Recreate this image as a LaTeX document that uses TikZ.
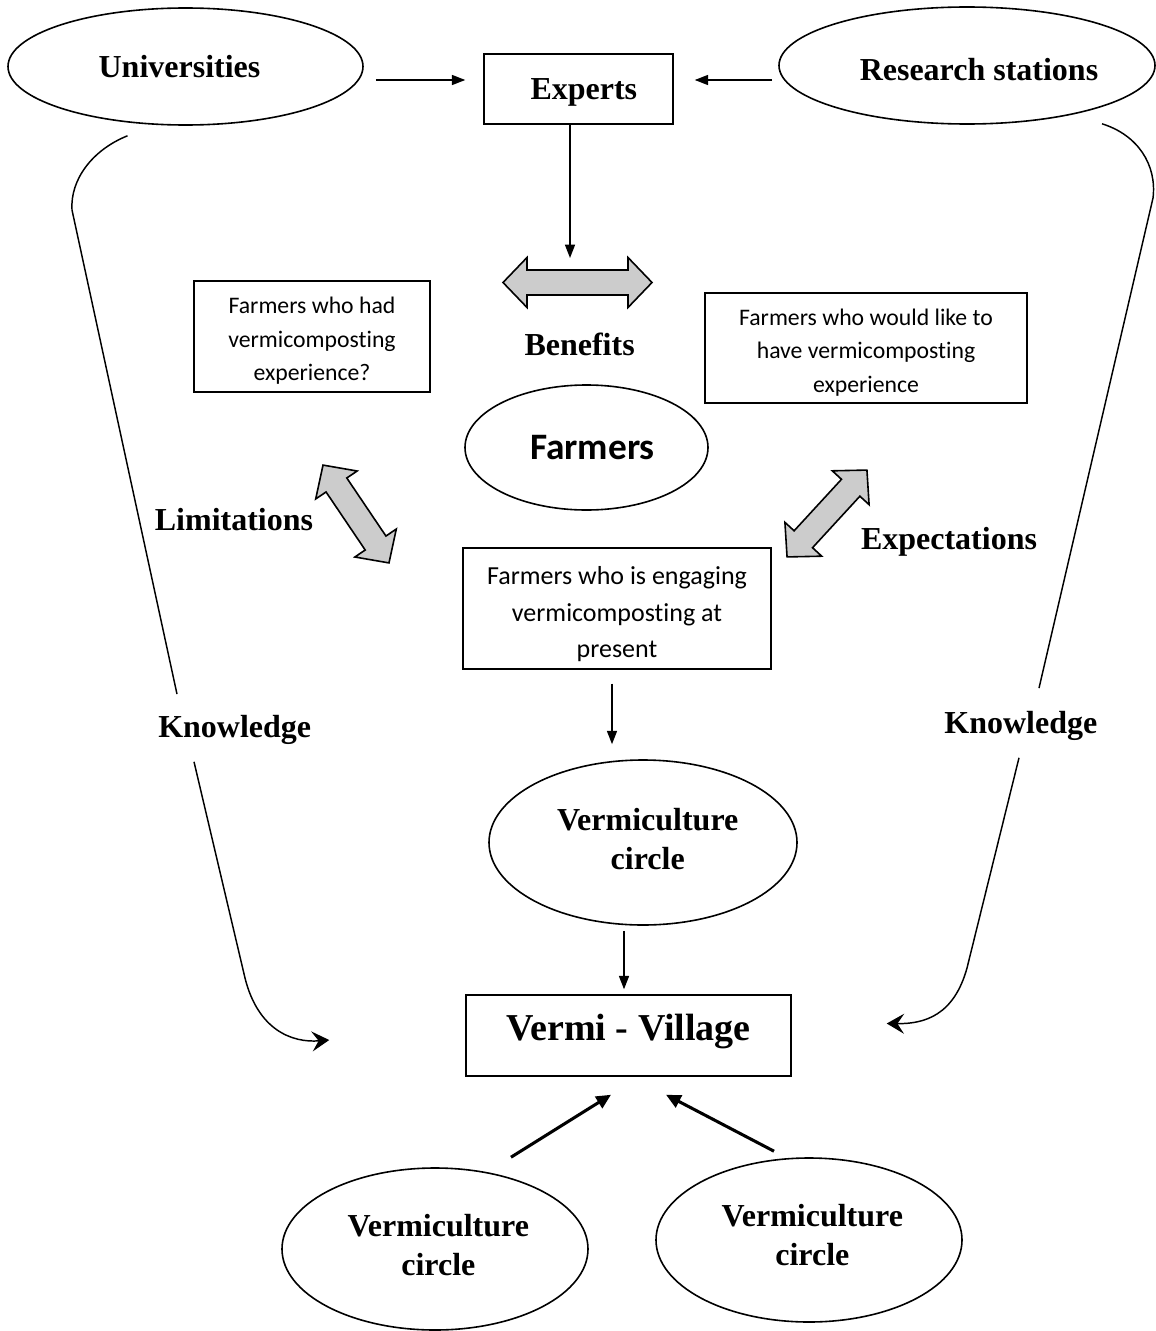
\documentclass[tikz,border=0pt]{standalone}
\usepackage{fontspec}
\setmainfont{Liberation Serif}
\newfontfamily\carl[Ligatures=NoCommon]{Carlito}
\usetikzlibrary{shapes.geometric,arrows.meta,calc}
\newcommand\dblarrow[4]{%
  \draw[blk, shift={(#1,#2)}, rotate=#3]
    (-#4,0) -- ++(24,25) -- ++(0,-12.5) -- (#4-24,12.5) -- ++(0,12.5) -- (#4,0)
    -- ++(-24,-25) -- ++(0,12.5) -- (-#4+24,-12.5) -- ++(0,-12.5) -- cycle;}
\newcommand\upstrut[1]{\rule{0pt}{#1}}
\newcommand\dnstrut[1]{\rule[-#1]{0pt}{#1}}
\begin{document}
\begin{tikzpicture}[x=0.75pt,y=-0.75pt,
  ttl/.style={font=\bfseries\fontsize{24}{29.25}\selectfont},
  ell/.style={draw, ellipse, line width=1.2pt, inner sep=0pt, align=center},
  bx/.style={draw, rectangle, line width=1.1pt, inner sep=0pt, align=center},
  smalltxt/.style={font=\carl\fontsize{17.8}{25}\selectfont},
  arr/.style={line width=1.1pt, -{Triangle[length=10pt,width=7.5pt]}},
  bigarr/.style={line width=2.3pt, -{Triangle[length=11pt,width=10pt]}},
  know/.style={line width=1.1pt, -{Stealth[length=13pt,width=15pt,inset=5pt]}},
  blk/.style={draw, line width=1.2pt, fill=gray!40, line join=miter}
]
\useasboundingbox (0,0) rectangle (1156,1331);

% top row
\node[ell, ttl, minimum width=266.25pt, minimum height=87.75pt] (uni) at (185.5,66.5) {Universities\hspace*{9pt}};
\node[ell, ttl, text height=21.75pt, text depth=0pt, minimum width=282pt, minimum height=87.75pt] (res) at (967,65.5) {\hspace*{18pt}Research stations};
\node[bx, ttl, text depth=0pt, minimum width=141.75pt, minimum height=52.5pt] (exp) at (578.5,89) {\hspace*{8pt}Experts};

% middle
\node[bx, smalltxt, minimum width=177pt, minimum height=83.25pt] (bl) at (312,336.5)
  {\upstrut{19pt}Farmers who had\\vermicomposting\\experience?};
\node[bx, smalltxt, minimum width=241.5pt, minimum height=82.5pt] (br) at (866,348)
  {\upstrut{19pt}Farmers who would like to\\have vermicomposting\\experience};
\node[ell, font=\carl\bfseries\fontsize{28}{32}\selectfont, minimum width=182.25pt, minimum height=93.75pt] (farm) at (586.5,447.5) {\hspace*{9pt}Farmers};
\node[bx, font=\carl\fontsize{19.5}{27.4}\selectfont, minimum width=231pt, minimum height=90.75pt] (bc) at (617,608.5)
  {\upstrut{22pt}Farmers who is engaging\\vermicomposting at\\present};

\node[ttl, anchor=base] (benef) at (579.6,355) {Benefits};
\node[ttl, anchor=base] (limit) at (234,530) {Limitations};
\node[ttl, anchor=base] (expect) at (949,549) {Expectations};
\node[ttl, anchor=base] (knowl) at (234.7,737) {Knowledge};
\node[ttl, anchor=base] (knowr) at (1020.8,733) {Knowledge};

% block arrows
\dblarrow{577.5}{282.5}{0}{74.5}
\dblarrow{356}{514}{124}{59}
\dblarrow{827}{513.5}{47.4}{59}
\coordinate (bentop) at (570,258);

% lower part
\node[ell, ttl, minimum width=231pt, minimum height=123.75pt] (vc) at (643,842.5) {\hspace*{7pt}Vermiculture\\\hspace*{7pt}circle\dnstrut{6pt}};
\node[bx, font=\bfseries\fontsize{28.5}{32}\selectfont, text height=19.5pt, text depth=12.75pt, minimum width=243.75pt, minimum height=60.75pt] (vv) at (628.5,1035.5) {Vermi - Village};
\node[ell, ttl, minimum width=229.5pt, minimum height=121.5pt] (vcl) at (435,1249) {\hspace*{5pt}Vermiculture\\\hspace*{5pt}circle\dnstrut{6pt}};
\node[ell, ttl, minimum width=229.5pt, minimum height=123pt] (vcr) at (809,1240) {\hspace*{5pt}Vermiculture\\\hspace*{5pt}circle\dnstrut{7.5pt}};

% connectors
\draw[arr] ($(uni.east)+(12,13.5)$) -- ($(exp.west)+(-18,-9)$);
\draw[arr] ($(res.west)+(-6,14.5)$) -- ($(exp.east)+(21,-9)$);
\draw[arr] ($(exp.south)+(-8.5,0)$) -- (bentop);
\draw[arr] ($(bc.south)+(-5,14)$) -- ($(vc.north)+(-31,-15)$);
\draw[arr] ($(vc.south)+(-19,5)$) -- ($(vv.north)+(-4.5,-5)$);
\draw[bigarr] ($(vcl.north)+(76,-10)$) -- ($(vv.south)+(-17.5,18)$);
\draw[bigarr] ($(vcr.north)+(-35,-6)$) -- ($(vv.south)+(37.5,18)$);

% knowledge curves
\draw[line width=1.1pt] ($(uni.south)+(-58,10)$) .. controls (92,150) and (70,180) .. (72,210) -- ($(knowl.north)+(-57.7,-16)$);
\draw[know] ($(knowl.south)+(-40.7,13)$) -- (245,978) .. controls (258,1030) and (292,1043) .. ($(vv.west)+(-136,4.5)$);
\draw[line width=1.1pt] ($(res.south)+(135,-1)$) .. controls (1138,135) and (1157,165) .. (1153,198) -- ($(knowr.north)+(18.2,-18)$);
\draw[know] ($(knowr.south)+(-1.8,13)$) -- (967,968) .. controls (954,1015) and (925,1024) .. ($(vv.east)+(95,-12)$);
\end{tikzpicture}
\end{document}
